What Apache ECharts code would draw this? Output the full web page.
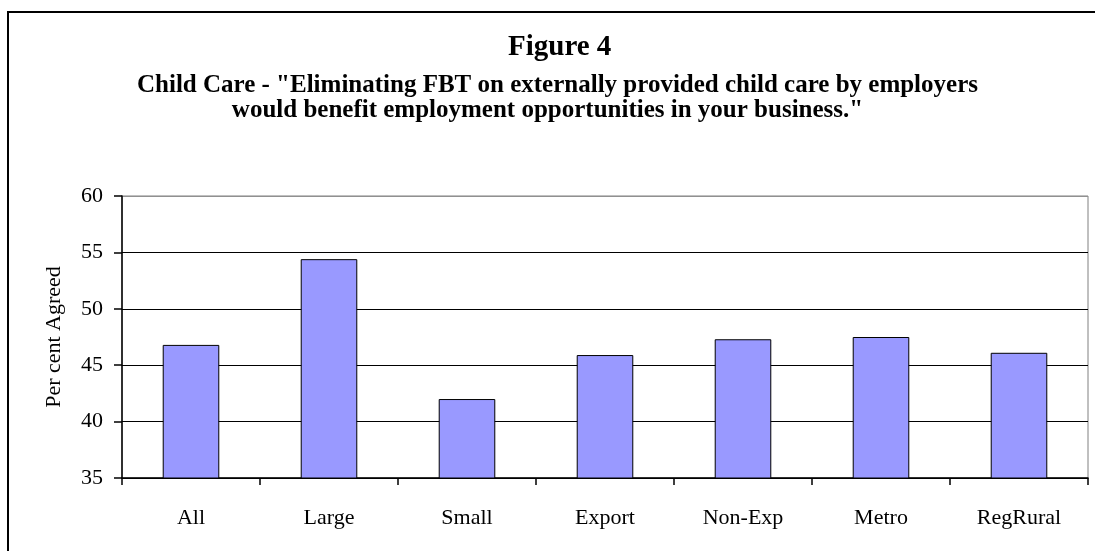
<!DOCTYPE html>
<html>
<head>
<meta charset="utf-8">
<script src="https://cdn.jsdelivr.net/npm/echarts@6/dist/echarts.min.js"></script>
<style>
html,body{margin:0;padding:0;background:#fff;}
#chart{width:1095px;height:551px;}
</style>
</head>
<body>
<div id="chart"></div>
<script>
const categories = ['All', 'Large', 'Small', 'Export', 'Non-Exp', 'Metro', 'RegRural'];
const agreedValues = [46.8, 54.4, 42.0, 45.9, 47.3, 47.5, 46.1];
const titleText = 'Figure 4';
const subtitleLines = [
  'Child Care - "Eliminating FBT on externally provided child care by employers',
  'would benefit employment opportunities in your business."'
];
const yAxisName = 'Per cent Agreed';
const yMin = 35, yMax = 60, yStep = 5;

const serif = '"Liberation Serif", "Times New Roman", serif';
const chart = echarts.init(document.getElementById('chart'), null, {renderer: 'canvas'});
chart.setOption({
  backgroundColor: '#ffffff',
  animation: false,
  graphic: [
    {type: 'rect', shape: {x: 8, y: 12, width: 1200, height: 700},
     style: {fill: 'none', stroke: '#000', lineWidth: 2}, silent: true, z: 0},
    {type: 'text', left: 508, top: 33,
     style: {text: titleText, font: 'bold 29px ' + serif, fill: '#000'}, z: 10},
    {type: 'text', left: 137, top: 73,
     style: {text: subtitleLines[0], font: 'bold 25px ' + serif, fill: '#000'}, z: 10},
    {type: 'text', left: 'center', top: 98,
     style: {text: subtitleLines[1], font: 'bold 25px ' + serif, fill: '#000'}, z: 10}
  ],
  grid: {left: 122, right: 7, top: 196, bottom: 73, show: true,
         borderColor: '#808080', borderWidth: 1, backgroundColor: 'transparent'},
  xAxis: {
    type: 'category',
    data: categories,
    axisLine: {lineStyle: {color: '#000', width: 1.5}},
    axisTick: {show: true, length: 7, lineStyle: {color: '#000', width: 1.5}},
    axisLabel: {color: '#000', fontFamily: serif, fontSize: 22, margin: 29}
  },
  yAxis: {
    type: 'value',
    min: yMin, max: yMax, interval: yStep,
    name: yAxisName,
    nameLocation: 'middle',
    nameGap: 57,
    nameTextStyle: {color: '#000', fontFamily: serif, fontSize: 22},
    axisLine: {show: true, lineStyle: {color: '#000', width: 1.5}},
    axisTick: {show: true, length: 8, lineStyle: {color: '#000', width: 1.5}},
    axisLabel: {color: '#000', fontFamily: serif, fontSize: 22, margin: 19},
    splitLine: {show: true, lineStyle: {color: ['#000', '#000', '#000', '#000', '#000', '#909090'], width: 1}}
  },
  series: [{
    type: 'bar',
    data: agreedValues,
    barCategoryGap: '59%',
    itemStyle: {color: '#9999FF', borderColor: '#000', borderWidth: 1}
  }]
});
</script>
</body>
</html>
